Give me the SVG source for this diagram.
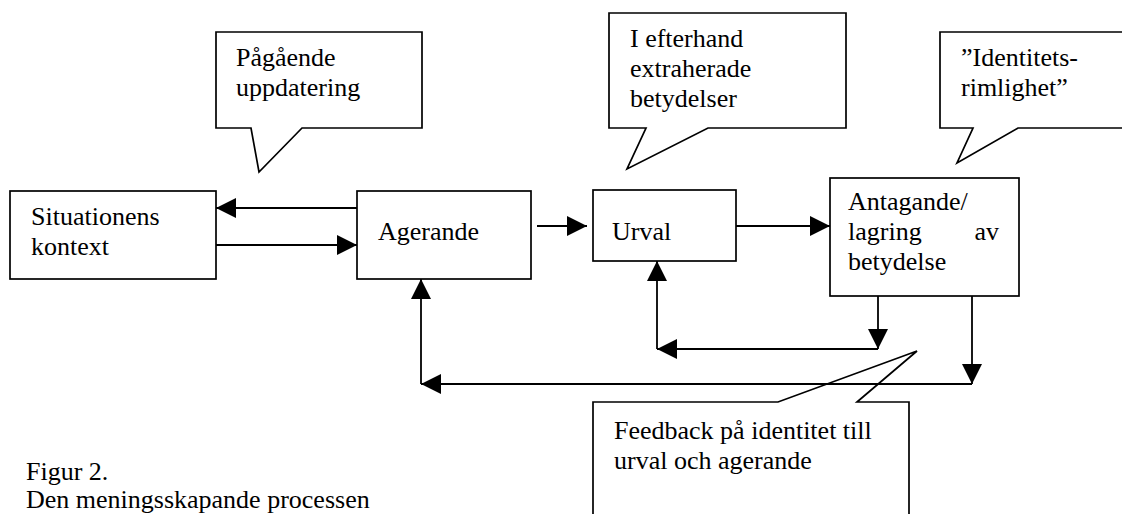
<svg xmlns="http://www.w3.org/2000/svg" width="1122" height="514" viewBox="0 0 1122 514">
<style>
.box{fill:#fff;stroke:#000;stroke-width:1.7}
.t{font-family:"Liberation Serif","Times New Roman",serif;font-size:26px;fill:#000}
.c{fill:none;stroke:#000;stroke-width:1.8}
.a{marker-end:url(#ah)}
</style>
<defs>
<marker id="ah" markerUnits="userSpaceOnUse" markerWidth="20" markerHeight="20" refX="19" refY="9.5" orient="auto" viewBox="0 0 19 19">
<path d="M0,0 L19,9.5 L0,19 Z" fill="#000"/>
</marker>
</defs>
<rect width="1122" height="514" fill="#fff"/>
<g id="callout-pagaende">
<path class="box" d="M216,32 H422 V128 H302 L259,172 L251,128 H216 Z"/>
<text class="t" x="236" y="66">Pågående</text>
<text class="t" x="236" y="96">uppdatering</text>
</g>
<g id="callout-efterhand">
<path class="box" d="M609,13 H846 V128 H708 L627,169 L646,128 H609 Z"/>
<text class="t" x="630" y="47">I efterhand</text>
<text class="t" x="630" y="77">extraherade</text>
<text class="t" x="630" y="107">betydelser</text>
</g>
<g id="callout-identitet">
<path class="box" d="M940,32 H1130 V128 H1018 L957,163 L973,128 H940 Z"/>
<text class="t" x="961" y="66">”Identitets-</text>
<text class="t" x="961" y="96">rimlighet”</text>
</g>
<g id="node-situationens">
<rect class="box" x="10" y="191" width="206" height="88"/>
<text class="t" x="31" y="225">Situationens</text>
<text class="t" x="31" y="255">kontext</text>
</g>
<g id="node-agerande">
<rect class="box" x="357" y="191" width="174" height="88"/>
<text class="t" x="378" y="240">Agerande</text>
</g>
<g id="node-urval">
<rect class="box" x="593" y="190" width="143" height="71"/>
<text class="t" x="612" y="240">Urval</text>
</g>
<g id="node-antagande">
<rect class="box" x="830" y="178" width="189" height="118"/>
<text class="t" x="848" y="210">Antagande/</text>
<text class="t" x="848" y="240">lagring</text>
<text class="t" x="999" y="240" text-anchor="end">av</text>
<text class="t" x="848" y="270">betydelse</text>
</g>
<g id="callout-feedback">
<path class="box" d="M593,402 H778 L917,351 L857,402 H909 V530 H593 Z"/>
<text class="t" x="614" y="439">Feedback på identitet till</text>
<text class="t" x="614" y="469">urval och agerande</text>
</g>
<g id="connectors">
<line class="c a" x1="357" y1="208" x2="216" y2="208"/>
<line class="c a" x1="216" y1="245" x2="357" y2="245"/>
<line class="c a" x1="537" y1="226" x2="587" y2="226"/>
<line class="c a" x1="736" y1="226" x2="830" y2="226"/>
<line class="c a" x1="878" y1="296" x2="878" y2="349"/>
<line class="c a" x1="878" y1="349" x2="657" y2="349"/>
<line class="c a" x1="657" y1="349" x2="657" y2="261"/>
<line class="c a" x1="972" y1="296" x2="972" y2="384"/>
<line class="c a" x1="972" y1="384" x2="421" y2="384"/>
<line class="c a" x1="421" y1="384" x2="421" y2="279"/>
</g>
<g id="caption">
<text class="t" x="26" y="480">Figur 2.</text>
<text class="t" x="26" y="508">Den meningsskapande processen</text>
</g>
</svg>
